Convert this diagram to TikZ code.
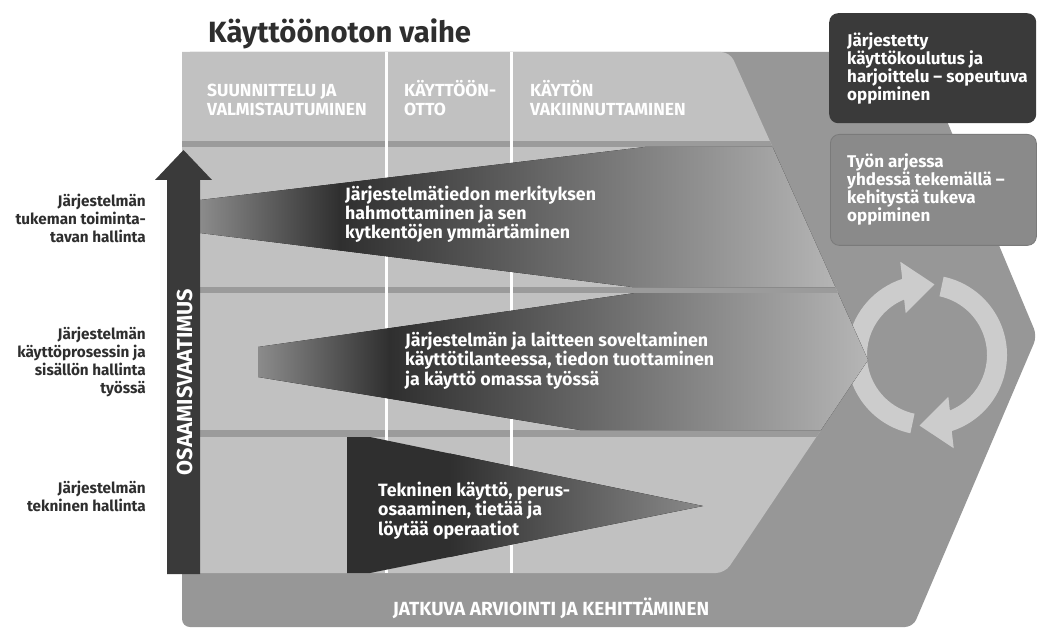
\documentclass[tikz,border=0pt]{standalone}
\usepackage{fontspec}
\setmainfont{Fira Sans}
\definecolor{outergray}{HTML}{979797}
\definecolor{panelgray}{HTML}{C1C1C1}
\definecolor{stripgray}{HTML}{9B9B9B}
\definecolor{darkbox}{HTML}{3A3A3A}
\definecolor{boxgray}{HTML}{8A8A8A}
\definecolor{boxedge}{HTML}{7A7A7A}
\definecolor{ringgray}{HTML}{CCCCCC}
\definecolor{textdark}{HTML}{2E2E2E}
\definecolor{wdark}{HTML}{2F2F2F}
\definecolor{wmid}{HTML}{8C8C8C}
\definecolor{wlight}{HTML}{B6B6B6}
\definecolor{wtip}{HTML}{8A8A8A}
\begin{document}
\begin{tikzpicture}[x=1pt,y=-1pt,
  whitetxt/.style={inner sep=0pt, font=\fontsize{17.8}{18}\selectfont\bfseries, text=white, align=left, anchor=base west},
  boxtxt/.style={inner sep=0pt, font=\fontsize{17}{17.8}\selectfont\bfseries, text=white, align=left, anchor=base west},
  labeltxt/.style={inner sep=0pt, font=\fontsize{15.3}{18}\selectfont\bfseries, text=textdark, align=right, anchor=base east},
  headtxt/.style={inner sep=0pt, font=\fontsize{17.5}{19}\selectfont\bfseries, text=white, align=left, anchor=base west},
  boxshape/.style={inner sep=0pt, rounded corners=9pt, anchor=north west}]
\useasboundingbox (0,0) rectangle (1038,628);

% outer chevron
\fill[outergray, rounded corners=8] (182,52) -- (918,52) -- (1037,336) -- (913,627) -- (182,627) -- cycle;

% cycle arrows
\begin{scope}[shift={(927,355)}]
  \fill[ringgray] (-78:80) arc[start angle=-78, end angle=72, radius=80] -- (74:97) -- (96:71) -- (63:47) -- (67.6:60) arc[start angle=67.6, end angle=-78, radius=60] -- cycle;
  \fill[ringgray] (102:80) arc[start angle=102, end angle=252, radius=80] -- (254:97) -- (276:71) -- (243:47) -- (247.6:60) arc[start angle=247.6, end angle=102, radius=60] -- cycle;
\end{scope}

% inner panel
\fill[panelgray] (182,300) -- (182,52) [rounded corners=9] -- (730,52) [sharp corners] -- (868,360) [rounded corners=9] -- (725,573) -- (182,573) -- cycle;
\begin{scope}
  \clip (182,300) -- (182,52) [rounded corners=9] -- (730,52) [sharp corners] -- (868,360) [rounded corners=9] -- (725,573) -- (182,573) -- cycle;
  \fill[stripgray] (170,141) rectangle (900,147);
  \fill[stripgray] (170,287) rectangle (900,293);
  \fill[stripgray] (170,430) rectangle (900,437);
  \fill[white] (385,52) rectangle (388,573);
  \fill[white] (510,52) rectangle (513,573);
  % wedge 1
  \begin{scope}
    \clip (200,200) -- (645,147) -- (960,147) -- (960,287) -- (632,287) -- (200,233) -- cycle;
    \fill[left color=wmid, right color=wdark] (199,140) rectangle (340,295);
    \fill[left color=wdark, right color=wlight] (339.5,140) rectangle (840,295);
  \end{scope}
  % wedge 2
  \begin{scope}
    \clip (258,347) -- (635,293) -- (960,293) -- (960,430) -- (580,430) -- (258,377) -- cycle;
    \fill[left color=wmid, right color=wdark] (257,290) rectangle (390,435);
    \fill[left color=wdark, right color=wlight] (389.5,290) rectangle (870,435);
  \end{scope}
  % wedge 3
  \begin{scope}
    \clip (347,437) -- (370,437) -- (703,506) -- (370,573) -- (347,573) -- cycle;
    \fill[wdark] (346,435) rectangle (450,575);
    \fill[left color=wdark, right color=wtip] (449.5,435) rectangle (704,575);
  \end{scope}
\end{scope}

% competence arrow
\fill[darkbox] (167,574) -- (167,180) -- (155,180) -- (183.5,150) -- (212,180) -- (200,180) -- (200,574) -- cycle;
\node[inner sep=0pt, rotate=90, text=white, font=\fontsize{21.7}{24}\selectfont\bfseries] (osaam) at (184.5,382) {OSAAMISVAATIMUS};

% right boxes
\node[boxshape, fill=darkbox, minimum width=207pt, minimum height=110pt] (boxa) at (829,13) {};
\node[boxshape, fill=boxgray, draw=boxedge, line width=0.8pt, minimum width=206pt, minimum height=111pt] (boxb) at (830,134) {};

% title
\node[inner sep=0pt, anchor=base west, text=textdark, font=\fontsize{29.3}{32}\selectfont\bfseries] (title) at (208,43) {Käyttöönoton vaihe};

% phase headers (anchor = last baseline)
\node[headtxt] (h1) at (207,116) {SUUNNITTELU JA\\VALMISTAUTUMINEN};
\node[headtxt] (h2) at (404,116) {KÄYTTÖÖN-\\OTTO};
\node[headtxt] (h3) at (530,116) {KÄYTÖN\\VAKIINNUTTAMINEN};

% wedge texts
\node[whitetxt] (t1) at (345,239) {Järjestelmätiedon merkityksen\\hahmottaminen ja sen\\kytkentöjen ymmärtäminen};
\node[whitetxt] (t2) at (405,385) {Järjestelmän ja laitteen soveltaminen\\käyttötilanteessa, tiedon tuottaminen\\ja käyttö omassa työssä};
\node[whitetxt] (t3) at (378,535) {Tekninen käyttö, perus-\\osaaminen, tietää ja\\löytää operaatiot};

% left labels
\node[labeltxt] (l1) at (146,243) {Järjestelmän\\tukeman toiminta-\\tavan hallinta};
\node[labeltxt] (l2) at (146,393) {Järjestelmän\\käyttöprosessin ja\\sisällön hallinta\\työssä};
\node[labeltxt] (l3) at (146,511) {Järjestelmän\\tekninen hallinta};

% box texts
\node[boxtxt] (ta) at (847,100.4) {Järjestetty\\käyttökoulutus ja\\harjoittelu – sopeutuva\\oppiminen};
\node[boxtxt] (tb) at (847,221.4) {Työn arjessa\\yhdessä tekemällä –\\kehitystä tukeva\\oppiminen};

% bottom bar
\node[inner sep=0pt, anchor=base, text=white, font=\fontsize{19}{21}\selectfont\bfseries] (bottom) at (551,615) {JATKUVA ARVIOINTI JA KEHITTÄMINEN};
\end{tikzpicture}
\end{document}
